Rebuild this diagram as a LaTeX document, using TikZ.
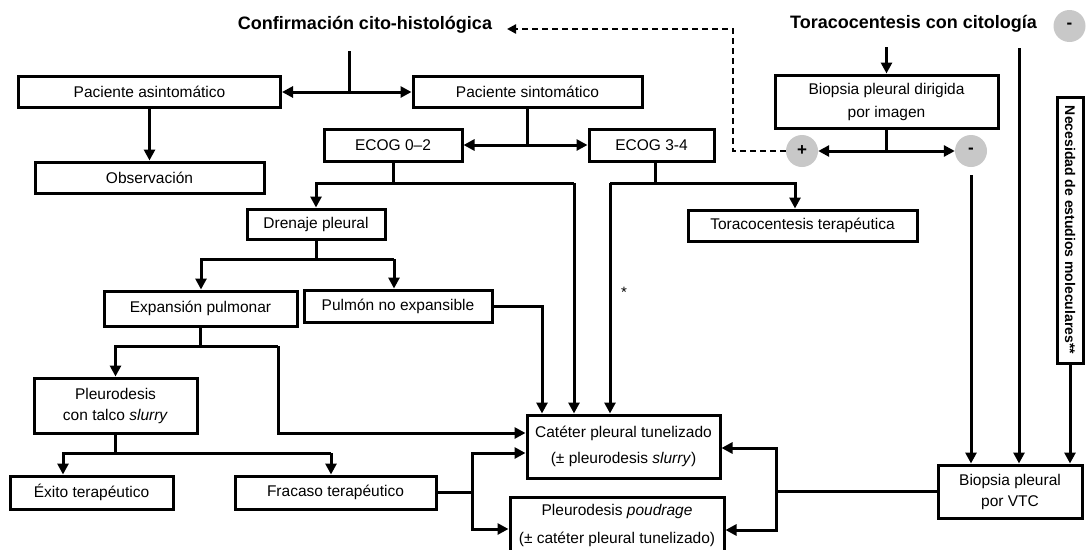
\documentclass[tikz,border=0pt]{standalone}
\usepackage{fontspec}
\setmainfont{Liberation Sans}
\usetikzlibrary{arrows.meta}
\definecolor{badgegray}{RGB}{200,200,200}
\begin{document}
\begin{tikzpicture}[x=1pt,y=-1pt,
  box/.style={draw, line width=3pt, inner sep=0pt, font=\fontsize{15.5}{18}\selectfont, align=center},
  arr/.style={line width=3pt, -{Triangle[length=11pt,width=11pt]}},
  ln/.style={line width=3pt},
  dasharr/.style={line width=2.6pt, dash pattern=on 6pt off 4pt, -{Triangle[length=9pt,width=9pt]}},
  title/.style={font=\fontsize{18}{21}\bfseries\selectfont, inner sep=0pt},
  badge/.style={circle, fill=badgegray, minimum size=32pt, inner sep=0pt, font=\fontsize{17}{18}\bfseries\selectfont},
]
\useasboundingbox (0,0) rectangle (1086,549);
\fill[white] (0,0) rectangle (1086,549);

% titles
\node[title] (conf) at (365,25) {Confirmación cito-histológica};
\node[title] (tora) at (913.5,24) {Toracocentesis con citología};
\node[badge] (mtop) at (1069.5,26) {-};

% boxes
\node[box, minimum width=262pt, minimum height=31pt] (asint) at (149.5,92) {Paciente asintomático};
\node[box, minimum width=229pt, minimum height=31pt] (sint) at (527.5,92) {Paciente sintomático};
\node[box, minimum width=229pt, minimum height=31pt] (obs) at (149.5,177.5) {Observación};
\node[box, minimum width=138pt, minimum height=32pt] (e02) at (393,145) {ECOG 0--2};
\node[box, minimum width=125pt, minimum height=32pt] (e34) at (651.5,145) {ECOG 3-4};
\node[box, minimum width=223pt, minimum height=53pt, font=\fontsize{15.5}{23}\selectfont] (biop) at (886.5,101.5) {Biopsia pleural dirigida\\por imagen};
\node[badge] (plus) at (802,151) {+};
\node[badge] (minus) at (971,151) {-};
\node[box, rotate=-90, minimum width=266pt, minimum height=26pt, font=\fontsize{14}{17}\bfseries\selectfont] (nec) at (1070,230) {Necesidad de estudios moleculares**};
\node[box, minimum width=138pt, minimum height=30pt] (dren) at (316,224) {Drenaje pleural};
\node[box, minimum width=229pt, minimum height=31pt] (torat) at (802.5,225.5) {Toracocentesis terapéutica};
\node[box, minimum width=193pt, minimum height=35pt] (expan) at (200.5,308.5) {Expansión pulmonar};
\node[box, minimum width=188pt, minimum height=32pt] (pulm) at (398,306) {Pulmón no expansible};
\node[box, minimum width=163pt, minimum height=55pt, font=\fontsize{15.5}{21}\selectfont] (pleuro) at (115.5,405.5) {Pleurodesis\\con talco \textit{slurry}};
\node[box, minimum width=163pt, minimum height=33pt] (exito) at (91.5,492.5) {Éxito terapéutico};
\node[box, minimum width=201pt, minimum height=33pt] (fracaso) at (335.5,492.5) {Fracaso terapéutico};
\node[box, minimum width=193pt, minimum height=63pt, font=\fontsize{15.5}{26.5}\selectfont] (cat) at (623.5,446.5) {Catéter pleural tunelizado\\(± pleurodesis \textit{slurry})};
\node[box, minimum width=214pt, minimum height=56pt, font=\fontsize{15.5}{28}\selectfont] (poud) at (617,525) {Pleurodesis \textit{poudrage}\\(± catéter pleural tunelizado)};
\node[box, minimum width=144pt, minimum height=53pt, font=\fontsize{15.5}{21}\selectfont] (vtc) at (1010,491.5) {Biopsia pleural\\por VTC};
\node[font=\fontsize{15}{18}\selectfont, inner sep=0pt] (star) at (624,292) {*};

% coordinates
\coordinate (cTop) at (349,51);
\coordinate (j1) at (349,92);
\coordinate (j2) at (527.5,145);
\coordinate (a02) at (316,183);
\coordinate (b02) at (574,183);
\coordinate (a34) at (610,183);
\coordinate (b34) at (795,183);
\coordinate (tcTop) at (886.5,47);
\coordinate (j3) at (886.5,151);
\coordinate (dTurn) at (733,151);
\coordinate (dTop) at (733,29);
\coordinate (dEnd) at (507,29);
\coordinate (mLow) at (971,175);
\coordinate (tcLine) at (1019,48);
\coordinate (dL) at (201,259);
\coordinate (dR) at (394,259);
\coordinate (pc) at (542,306);
\coordinate (eL) at (115.5,346);
\coordinate (eR) at (278,346);
\coordinate (eR2) at (278,433);
\coordinate (pL) at (63,453);
\coordinate (pR) at (331,453);
\coordinate (fj) at (472,492.5);
\coordinate (fT) at (472,453);
\coordinate (fB) at (472,529);
\coordinate (vj) at (776,491.5);
\coordinate (vT) at (776,448);
\coordinate (vB) at (776,530);

% connectors
\draw[ln] (cTop) -- (j1);
\draw[arr] (j1) -- (asint.east);
\draw[arr] (j1) -- (sint.west);
\draw[arr] (asint.south) -- (obs.north);
\draw[ln] (sint.south) -- (j2);
\draw[arr] (j2) -- (e02.east);
\draw[arr] (j2) -- (e34.west);
\draw[ln] (e02.south) -- (e02.south |- a02);
\draw[arr] (b02) -- (a02) -- (dren.north);
\draw[arr] (b02) -- (b02 |- cat.north);
\draw[ln] (e34.south -| 655,0) -- (655,183);
\draw[arr] (a34) -- (b34) -- (b34 |- torat.north);
\draw[arr] (a34) -- (a34 |- cat.north);
\draw[arr] (tcTop) -- (biop.north);
\draw[ln] (biop.south) -- (j3);
\draw[arr] (j3) -- (plus.east);
\draw[arr] (j3) -- (minus.west);
\draw[dasharr] (plus.west) -- (dTurn) -- (dTop) -- (dEnd);
\draw[arr] (mLow) -- (mLow |- vtc.north);
\draw[arr] (tcLine) -- (tcLine |- vtc.north);
\draw[arr] (nec.east) -- (nec.east |- vtc.north);
\draw[ln] (dren.south) -- (dren.south |- dL);
\draw[arr] (dR) -- (dL) -- (dL |- expan.north);
\draw[arr] (dR) -- (dR |- pulm.north);
\draw[arr] (pulm.east) -- (pc) -- (pc |- cat.north);
\draw[ln] (expan.south) -- (expan.south |- eL);
\draw[arr] (eR) -- (eL) -- (pleuro.north);
\draw[arr] (eR) -- (eR2) -- (eR2 -| cat.west);
\draw[ln] (pleuro.south) -- (pleuro.south |- pL);
\draw[arr] (pR) -- (pL) -- (pL |- exito.north);
\draw[arr] (pR) -- (pR |- fracaso.north);
\draw[ln] (fracaso.east) -- (fj);
\draw[arr] (fj) -- (fT) -- (fT -| cat.west);
\draw[arr] (fj) -- (fB) -- (fB -| poud.west);
\draw[ln] (vtc.west) -- (vj);
\draw[arr] (vj) -- (vT) -- (vT -| cat.east);
\draw[arr] (vj) -- (vB) -- (vB -| poud.east);
\end{tikzpicture}
\end{document}
